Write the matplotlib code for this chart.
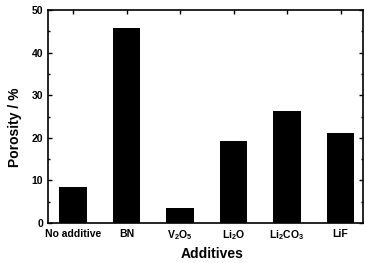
import matplotlib
matplotlib.use("Agg")
import matplotlib.pyplot as plt
from matplotlib.ticker import MultipleLocator

plt.rcParams['font.family'] = ['Liberation Sans', 'DejaVu Sans']
plt.rcParams['font.weight'] = 'bold'
plt.rcParams['mathtext.fontset'] = 'custom'
plt.rcParams['mathtext.bf'] = 'Liberation Sans:bold'
plt.rcParams['mathtext.rm'] = 'Liberation Sans:bold'
plt.rcParams['mathtext.default'] = 'bf'

categories = ['No additive', 'BN', r'V$_2$O$_5$', r'Li$_2$O', r'Li$_2$CO$_3$', 'LiF']
porosity = [8.4, 45.7, 3.5, 19.2, 26.4, 21.2]
yticks = [0, 10, 20, 30, 40, 50]

fig = plt.figure(figsize=(3.66, 2.63), dpi=100)
ax = fig.add_axes([48/366, 1-223/263, (363-48)/366, (223-10)/263])
x = list(range(len(categories)))
ax.bar(x, porosity, width=0.51, color='black')
ax.set_xlim(-0.47, 5.42)
ax.set_ylim(0, 50)
ax.set_yticks(yticks)
ax.yaxis.set_minor_locator(MultipleLocator(5))
ax.set_xticks(x)
ax.set_xticklabels(categories, fontsize=7.5, fontweight='bold')
ax.tick_params(axis='y', labelsize=7.5, direction='in', right=True, length=3, width=1)
ax.tick_params(axis='y', which='minor', direction='in', right=True, length=1.5, width=1)
ax.tick_params(axis='x', direction='in', top=True, bottom=False, length=3, width=1, pad=4)
for s in ax.spines.values():
    s.set_linewidth(1.2)
ax.set_ylabel('Porosity / %', fontsize=10, fontweight='bold')
ax.set_xlabel('Additives', fontsize=10, fontweight='bold')
ax.yaxis.set_label_coords(-0.083, 0.45)
ax.xaxis.set_label_coords(0.52, -0.112)
fig.savefig('out.png', dpi=100)
